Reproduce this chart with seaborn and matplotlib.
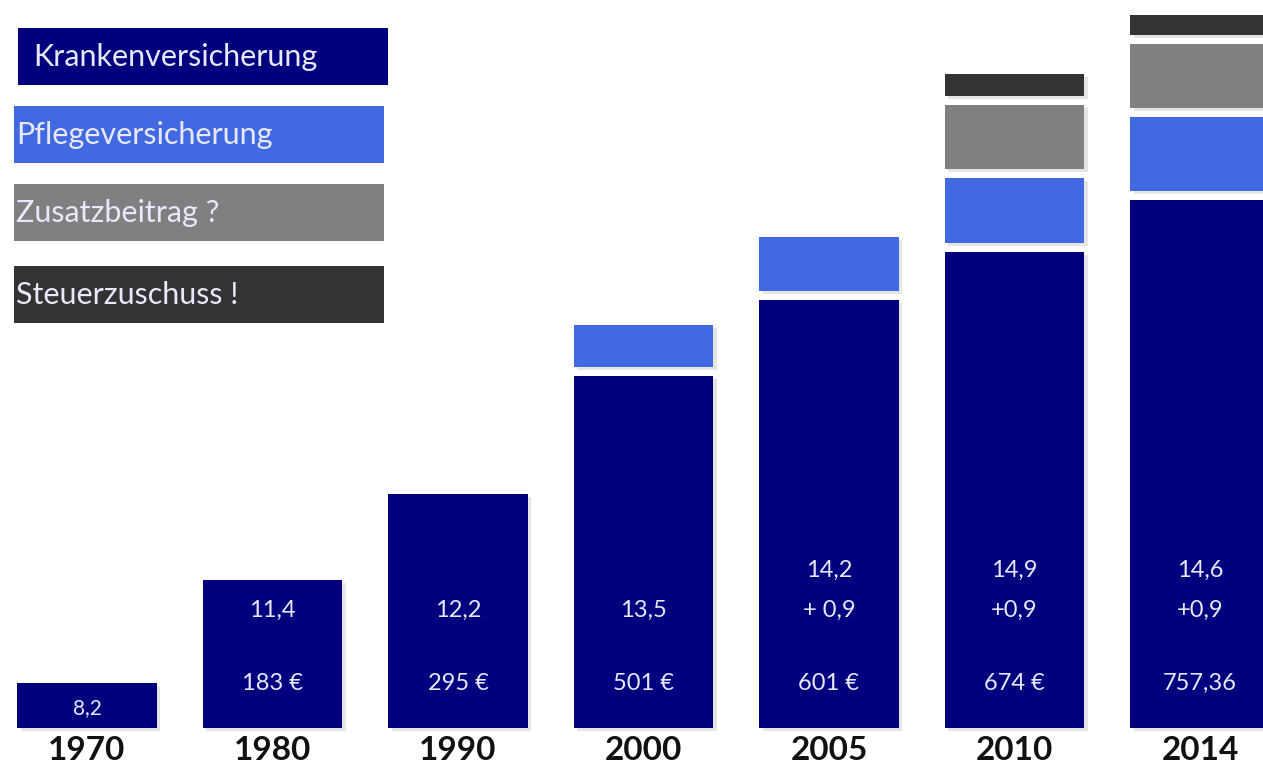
import matplotlib
matplotlib.use("Agg")
import matplotlib.pyplot as plt
import matplotlib.patheffects as pe
from matplotlib.patches import Rectangle
import seaborn as sns
import numpy as np
import pandas as pd

# data (segment heights, same scale for all bars)
years = ["1970", "1980", "1990", "2000", "2005", "2010", "2014"]
kranken = [45, 148, 234, 352, 428, 476, 528]
pflege = [0, 0, 0, 42, 54, 65, 74]
zusatz = [0, 0, 0, 0, 0, 64, 64]
steuer = [0, 0, 0, 0, 0, 22, 20]
beitragssatz = ["8,2", "11,4", "12,2", "13,5", "14,2\n+ 0,9", "14,9\n+0,9", "14,6\n+0,9"]
beitrag_euro = ["", "183 €", "295 €", "501 €", "601 €", "674 €", "757,36"]
legend_labels = ["Krankenversicherung", "Pflegeversicherung", "Zusatzbeitrag ?", "Steuerzuschuss !"]

colors = ["#00007f", "#4169e1", "#808080", "#333333"]
text_col = "#e8e8fa"
gap = 9

sns.set_theme(style="white")
plt.rcParams["font.family"] = ["Lato", "DejaVu Sans"]

W, H = 1263, 770
fig = plt.figure(figsize=(W / 100, H / 100), dpi=100)
ax = fig.add_axes([0, 0, 1, 1])

shadow = [pe.SimplePatchShadow(offset=(2.5, -2.5), shadow_rgbFace="#999999", alpha=0.25), pe.Normal()]

df = pd.DataFrame({"Jahr": years, "Kranken": kranken})
sns.barplot(data=df, x="Jahr", y="Kranken", color=colors[0], width=0.75,
            saturation=1, ax=ax, linewidth=0)
for p in ax.patches:
    p.set_path_effects(shadow)

x = np.arange(len(years))
bottom = np.array(kranken, dtype=float)
for layer, col in zip([pflege, zusatz, steuer], colors[1:]):
    h = np.array(layer, dtype=float)
    m = h > 0
    bars = ax.bar(x[m], h[m], bottom=bottom[m] + gap, width=0.75, color=col, linewidth=0)
    for b in bars:
        b.set_path_effects(shadow)
    bottom = np.where(m, bottom + gap + h, bottom)

# texts inside bars
for i in x:
    if i == 0:
        ax.text(i, 20, beitragssatz[i], ha="center", va="center", color=text_col, fontsize=15)
        continue
    lines = beitragssatz[i].split("\n")
    ys = [118] if len(lines) == 1 else [158, 118]
    for t, yy in zip(lines, ys):
        ax.text(i, yy, t, ha="center", va="center", color=text_col, fontsize=17)
    ax.text(i, 45, beitrag_euro[i], ha="center", va="center", color=text_col, fontsize=17)

# year labels
for i, yr in enumerate(years):
    ax.text(i, -23, yr, ha="center", va="center", color="#111111", fontsize=24, fontweight="bold")

ax.set_xlim(-87 / 185.5, (W - 87) / 185.5)
ax.set_ylim(-42, 728)
ax.axis("off")

# legend boxes (pixel layout, y from top)
box_left = [18, 14, 14, 14]
text_left = [33, 16, 16, 16]
for k, (lab, col) in enumerate(zip(legend_labels, colors)):
    top = 28 + k * 78 + (4 if k == 3 else 0)
    fig.add_artist(Rectangle((box_left[k] / W, 1 - (top + 57) / H), 370 / W, 57 / H,
                             transform=fig.transFigure, color=col, linewidth=0))
    fig.text(text_left[k] / W, 1 - (top + 29) / H, lab, ha="left", va="center",
             color=text_col, fontsize=22)

fig.savefig("out.png", dpi=100)
